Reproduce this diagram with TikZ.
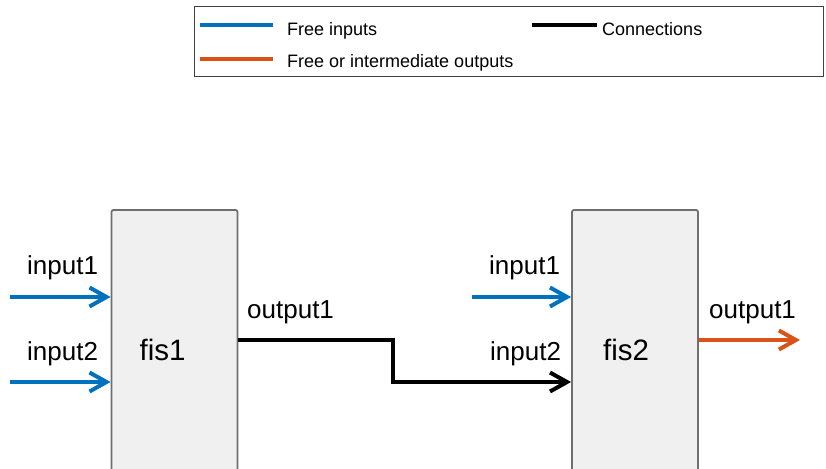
\documentclass[tikz,border=0pt]{standalone}
\usepackage{fontspec}
\setmainfont{Liberation Sans}
\usetikzlibrary{arrows.meta}
\definecolor{mblue}{HTML}{0072BD}
\definecolor{morange}{HTML}{D95319}
\definecolor{boxgray}{HTML}{F0F0F0}
\definecolor{edgegray}{HTML}{6F6F6F}
\begin{document}
\begin{tikzpicture}[x=1pt,y=-1pt,
  fisbox/.style={draw=edgegray,fill=boxgray,line width=1.8pt,rounded corners=2pt,
    minimum width=126pt,minimum height=280pt,inner sep=0pt,font=\fontsize{29.5}{32}\selectfont},
  lbl/.style={anchor=base west,inner sep=0pt,font=\fontsize{26}{29}\selectfont},
  leg/.style={anchor=base west,inner sep=0pt,font=\fontsize{18}{21}\selectfont},
  tip/.style={-{Straight Barb[length=17pt,width=19pt,line width=4pt]}},
  freein/.style={mblue,line width=3.2pt,tip},
  freeout/.style={morange,line width=3.2pt,tip},
  conn/.style={black,line width=3.2pt},
  legline/.style={line width=4pt}]
\useasboundingbox (0,0) rectangle (826,468);
\clip (0,0) rectangle (826,468);
% legend
\node[draw=black!75,line width=1pt,minimum width=629pt,minimum height=70pt,inner sep=0pt,fill=white] (legend) at (508.5,42) {};
\coordinate (lb1) at (200,25);
\coordinate (lb2) at (273,25);
\coordinate (lo1) at (200,59);
\coordinate (lo2) at (273,59);
\coordinate (lk1) at (532,25);
\coordinate (lk2) at (597,25);
\draw[legline,mblue] (lb1) -- (lb2);
\draw[legline,morange] (lo1) -- (lo2);
\draw[legline,black] (lk1) -- (lk2);
\node[leg] (tfree) at (287,36) {Free inputs};
\node[leg] (tout) at (287,68) {Free or intermediate outputs};
\node[leg] (tconn) at (602,36) {Connections};
% boxes
\node[fisbox] (fis1) at (174.5,350) {\hspace*{-24pt}fis1};
\node[fisbox] (fis2) at (635,350) {\hspace*{-18pt}fis2};
% fis1 inputs
\coordinate (i11) at (10,297);
\coordinate (i12) at (10,382);
\draw[freein] (i11) -- (i11 -| fis1.west);
\draw[freein] (i12) -- (i12 -| fis1.west);
\node[lbl] (l11) at (27,274) {input1};
\node[lbl] (l12) at (27,360) {input2};
% connection
\coordinate (c1) at (393,340);
\coordinate (c2) at (393,382);
\draw[conn,line join=miter] (c1 -| fis1.east) -- (c1) -- (c2) -- ([xshift=-20pt]c2 -| fis2.west);
\draw[conn,tip] ([xshift=-22pt]c2 -| fis2.west) -- (c2 -| fis2.west);
\node[lbl] (lo1t) at (247,318) {output1};
% fis2 inputs
\coordinate (i21) at (472,297);
\draw[freein] (i21) -- (i21 -| fis2.west);
\node[lbl] (l21) at (489,274) {input1};
\node[lbl] (l22) at (490,360) {input2};
% fis2 output
\coordinate (o2) at (800,340);
\draw[freeout] (o2 -| fis2.east) -- (o2);
\node[lbl] (lo2t) at (709,318) {output1};
\end{tikzpicture}
\end{document}
